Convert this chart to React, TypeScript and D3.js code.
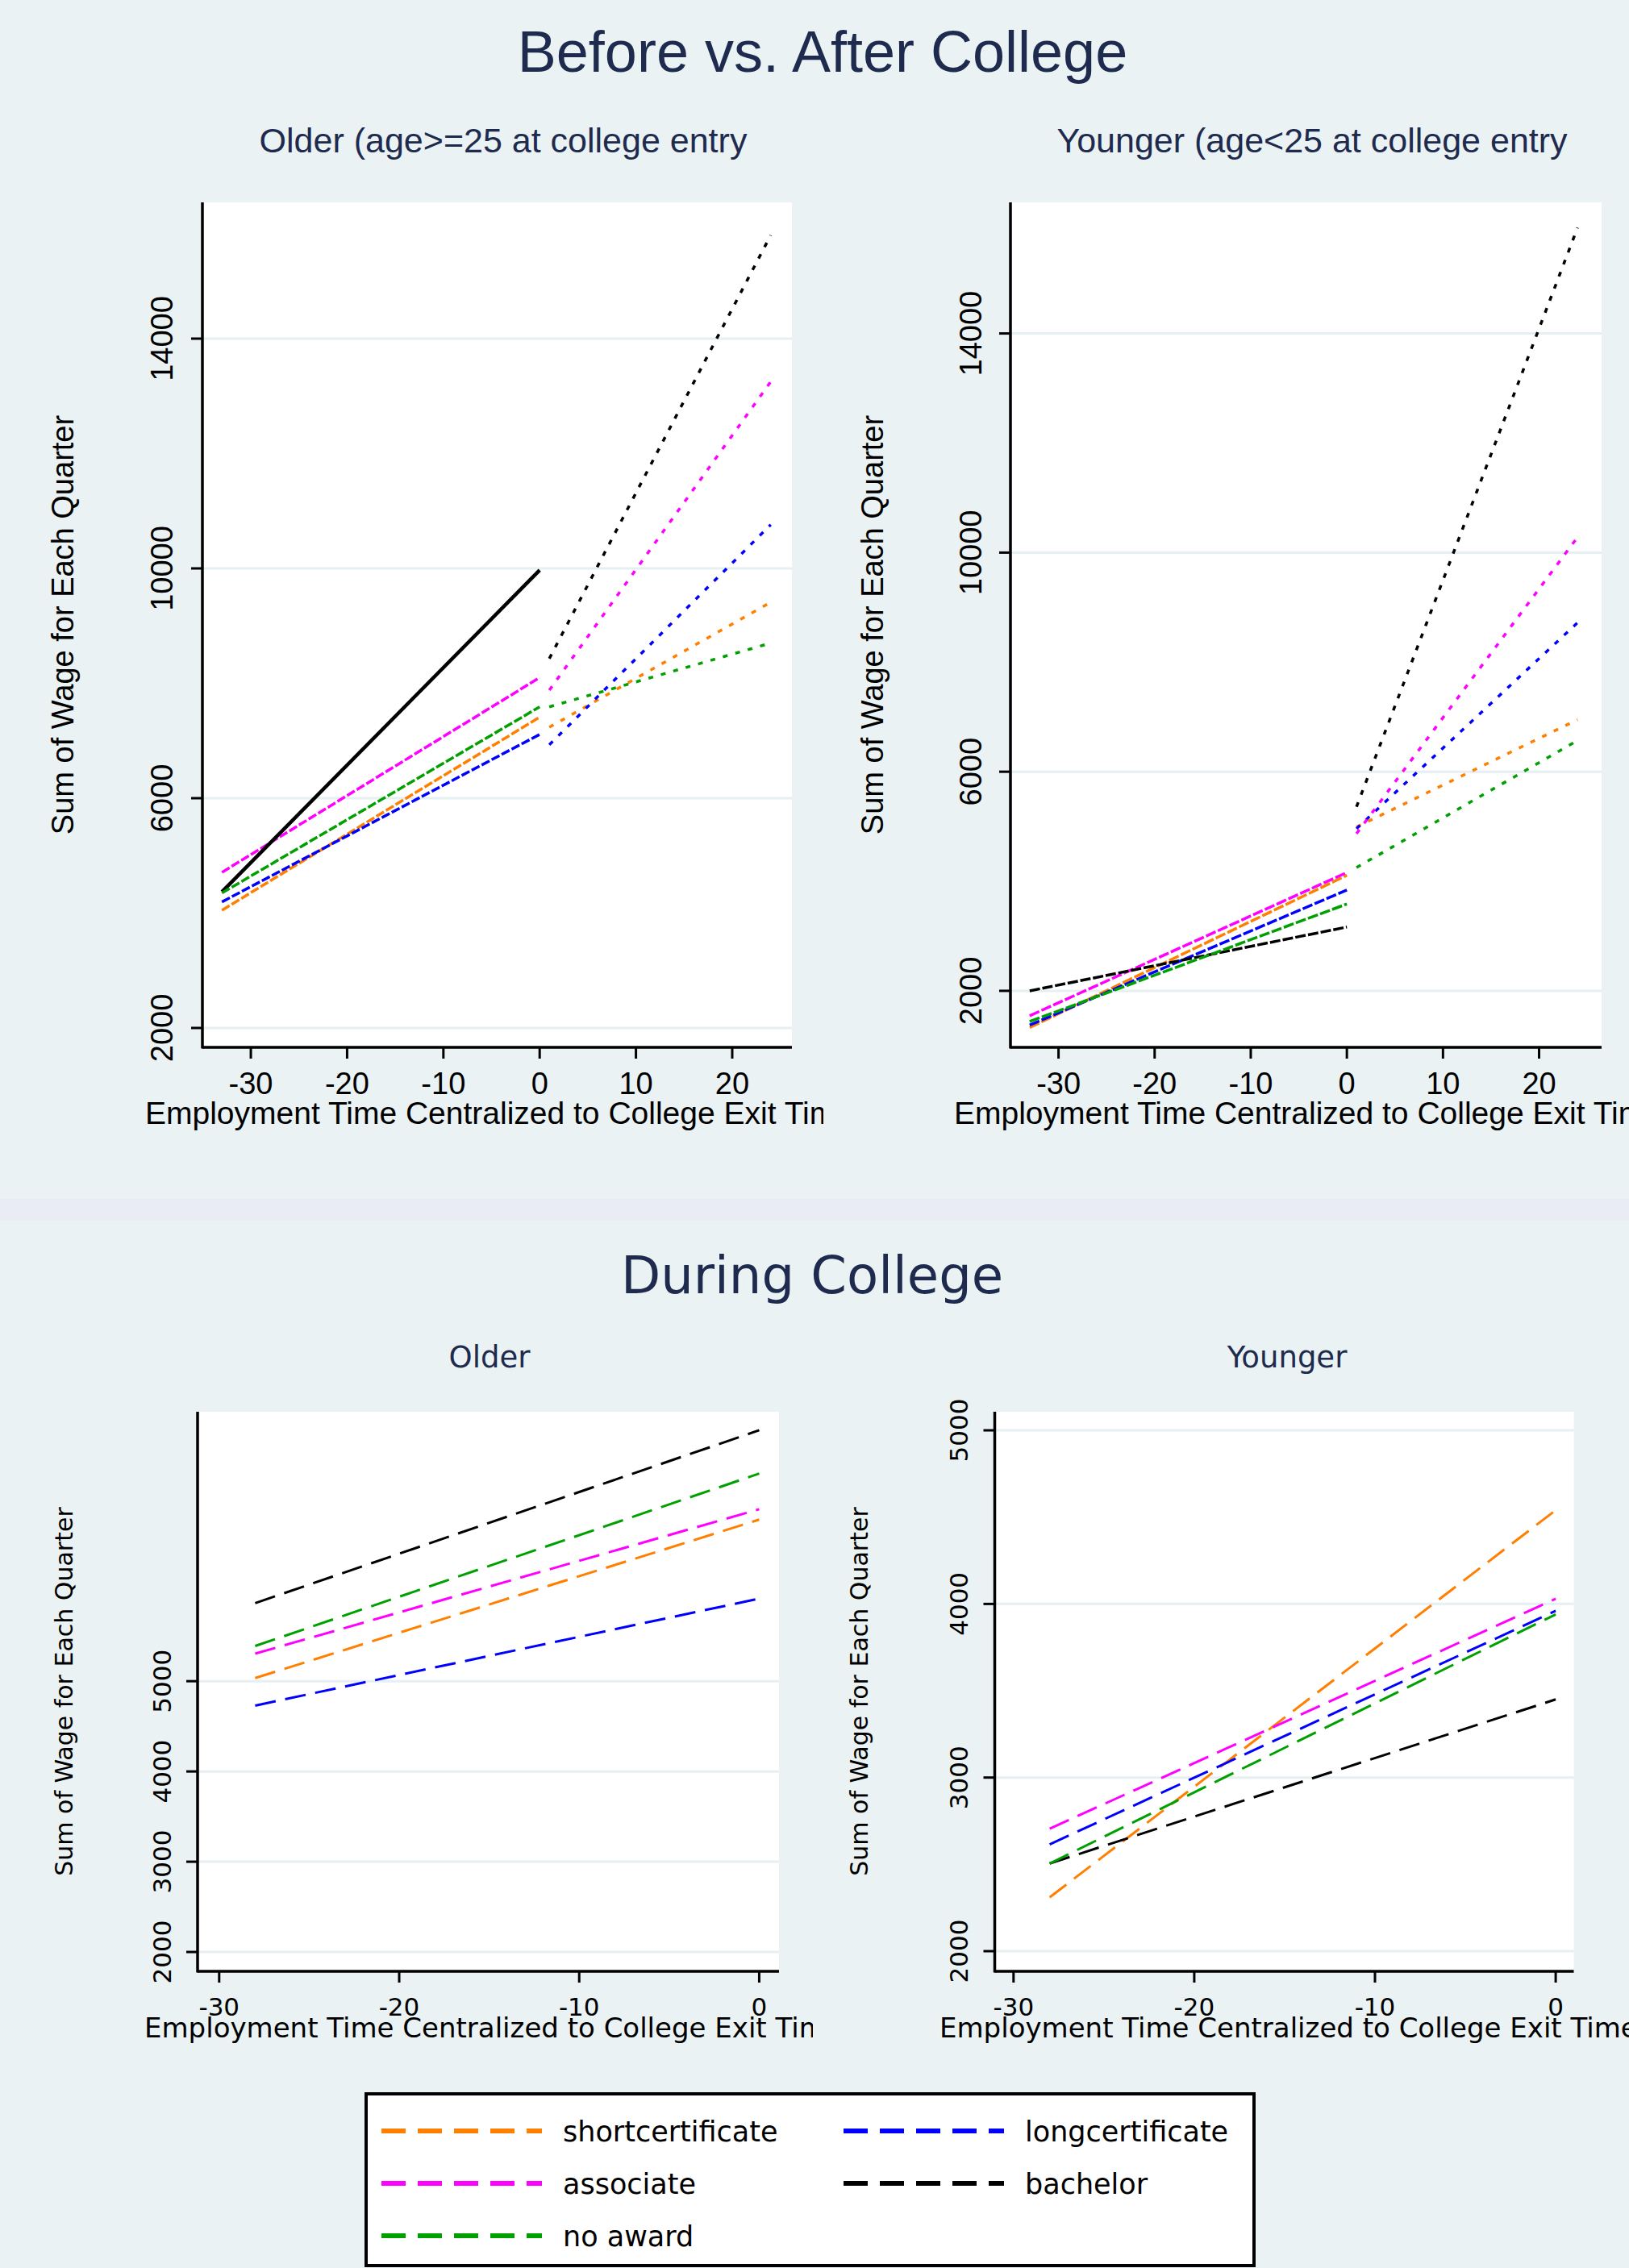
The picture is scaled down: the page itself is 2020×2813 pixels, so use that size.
import * as d3 from "d3";

const degrees = ["shortcertificate", "longcertificate", "associate", "bachelor", "no award"];
const degreeColors = ["#FF7F00", "#0000FF", "#FF00FF", "#000000", "#00A000"];

// Before vs. After College: quarters relative to college exit
const preQuarters = [-33, 0];
const postQuarters = [1, 24];

// fitted wage at the start and end of each segment, in degree order
const olderPre = [[4050, 7410], [4195, 7110], [4710, 8100], [4370, 9970], [4350, 7590]];
const olderPost = [[7235, 9410], [6930, 10760], [7880, 13250], [8430, 15800], [7590, 8700]];
const youngerPre = [[1330, 4110], [1375, 3840], [1545, 4160], [2000, 3165], [1440, 3585]];
const youngerPost = [[4990, 6950], [4960, 8720], [4870, 10280], [5360, 15930], [4250, 6570]];

// During College
const duringQuarters = [-28, 0];
const olderDuring = [[5035, 6790], [4730, 5915], [5305, 6905], [5865, 7780], [5390, 7300]];
const youngerDuring = [[2310, 4540], [2615, 3960], [2705, 4030], [2505, 3450], [2505, 3940]];

const topYTicks = [2000, 6000, 10000, 14000];
const topXTicks = [-30, -20, -10, 0, 10, 20];
const bottomYTicks = [2000, 3000, 4000, 5000];
const bottomXTicks = [-30, -20, -10, 0];

const xTitle = "Employment Time Centralized to College Exit Time";
const yTitle = "Sum of Wage for Each Quarter";

const BG = "#EAF2F3";
const NAVY = "#1E2B4E";
const ARIAL = "'Liberation Sans', Arial, sans-serif";
const DEJAVU = "'DejaVu Sans', sans-serif";

type Seg = { xs: number[]; vals: number[][]; dash: string; width: number; solid?: number };

type PanelProps = {
  id: string;
  clipRight: number;
  box: { left: number; top: number; right: number; bottom: number };
  xDomain: [number, number];
  yDomain: [number, number];
  xTicks: number[];
  yTicks: number[];
  segs: Seg[];
  title: string;
  titleX: number;
  titleY: number;
  titleSize: number;
  font: string;
  yTitleX: number;
  yTitleSize: number;
  yTickX: number;
  tickSize: number;
  xTickY: number;
  xTitleX: number;
  xTitleY: number;
  xTitleSize: number;
};

function Panel(p: PanelProps) {
  const { box } = p;
  const x = d3.scaleLinear().domain(p.xDomain).range([box.left, box.right]);
  const y = d3.scaleLinear().domain(p.yDomain).range([box.bottom, box.top]);
  const line = d3
    .line<[number, number]>()
    .x((d) => x(d[0]))
    .y((d) => y(d[1]));
  const midY = (box.top + box.bottom) / 2;

  return (
    <g clipPath={`url(#${p.id})`}>
      <clipPath id={p.id}>
        <rect x={0} y={0} width={p.clipRight} height={2813} />
      </clipPath>
      <text x={p.titleX} y={p.titleY} textAnchor="middle" fontFamily={p.font} fontSize={p.titleSize} fill={NAVY}>
        {p.title}
      </text>
      <rect x={box.left} y={box.top} width={box.right - box.left} height={box.bottom - box.top} fill="#FFFFFF" />
      {p.yTicks.map((t) => (
        <line key={`g${t}`} x1={box.left} x2={box.right} y1={y(t)} y2={y(t)} stroke="#E6EFF1" strokeWidth={3} />
      ))}
      {p.segs.map((s, si) =>
        s.vals.map((v, i) => (
          <path
            key={`s${si}-${i}`}
            d={line([[s.xs[0], v[0]], [s.xs[1], v[1]]]) || ""}
            fill="none"
            stroke={degreeColors[i]}
            strokeWidth={s.solid === i ? 4.5 : s.width}
            strokeDasharray={s.solid === i ? undefined : s.dash}
          />
        ))
      )}
      <line x1={box.left} x2={box.left} y1={box.top} y2={box.bottom + 1.5} stroke="#000" strokeWidth={3.5} />
      <line x1={box.left} x2={box.right} y1={box.bottom} y2={box.bottom} stroke="#000" strokeWidth={3.5} />
      {p.yTicks.map((t) => (
        <g key={`y${t}`}>
          <line x1={box.left - 14} x2={box.left} y1={y(t)} y2={y(t)} stroke="#000" strokeWidth={3} />
          <text
            transform={`translate(${p.yTickX},${y(t)}) rotate(-90)`}
            textAnchor="middle"
            fontFamily={p.font}
            fontSize={p.tickSize}
            fill="#000"
          >
            {t}
          </text>
        </g>
      ))}
      {p.xTicks.map((t) => (
        <g key={`x${t}`}>
          <line x1={x(t)} x2={x(t)} y1={box.bottom} y2={box.bottom + 14} stroke="#000" strokeWidth={3} />
          <text x={x(t)} y={p.xTickY} textAnchor="middle" fontFamily={p.font} fontSize={p.tickSize} fill="#000">
            {t}
          </text>
        </g>
      ))}
      <text
        transform={`translate(${p.yTitleX},${midY}) rotate(-90)`}
        textAnchor="middle"
        fontFamily={p.font}
        fontSize={p.yTitleSize}
        fill="#000"
      >
        {yTitle}
      </text>
      <text x={p.xTitleX} y={p.xTitleY} fontFamily={p.font} fontSize={p.xTitleSize} fill="#000">
        {xTitle}
      </text>
    </g>
  );
}

function Legend() {
  const left = 454;
  const top = 2597;
  const rows = [2643, 2708, 2773];
  const cols = [473, 1046];
  const lineLen = 199;
  return (
    <g>
      <rect x={left} y={top} width={1101} height={213} fill="#FFFFFF" stroke="#000" strokeWidth={4} />
      {degrees.map((name, i) => {
        const cx = cols[i % 2];
        const cy = rows[Math.floor(i / 2)];
        return (
          <g key={name}>
            <line x1={cx} x2={cx + lineLen} y1={cy} y2={cy} stroke={degreeColors[i]} strokeWidth={6} strokeDasharray="30 15" />
            <text x={cx + 225} y={cy + 13} fontFamily={DEJAVU} fontSize={35} fill="#000">
              {name}
            </text>
          </g>
        );
      })}
    </g>
  );
}

export default function App() {
  const topBase = {
    xTicks: topXTicks,
    yTicks: topYTicks,
    titleY: 189,
    titleSize: 43,
    font: ARIAL,
    yTitleSize: 38,
    tickSize: 38,
    xTickY: 1357,
    xTitleY: 1394,
    xTitleSize: 39,
  };
  const bottomBase = {
    xTicks: bottomXTicks,
    yTicks: bottomYTicks,
    titleY: 1696,
    titleSize: 37,
    font: DEJAVU,
    yTitleSize: 30,
    tickSize: 31,
    xTickY: 2500,
    xTitleY: 2527,
    xTitleSize: 34,
  };
  const preDash = "11 3";
  const postDash = "6 10";
  const duringDash = "26 12";

  return (
    <svg width={2020} height={2813} style={{ position: "absolute", left: 0, top: 0, display: "block" }}>
      <rect x={0} y={0} width={2020} height={2813} fill={BG} />
      <rect x={0} y={1487} width={2020} height={27} fill="#E9ECF4" />

      <text x={1020} y={89} textAnchor="middle" fontFamily={ARIAL} fontSize={72} fill={NAVY}>
        Before vs. After College
      </text>
      <text x={1007} y={1604} textAnchor="middle" fontFamily={DEJAVU} fontSize={64} fill={NAVY}>
        During College
      </text>

      <Panel
        {...topBase}
        id="clipTL"
        clipRight={1021}
        box={{ left: 251, top: 251, right: 982, bottom: 1299 }}
        xDomain={[-35.03, 26.2]}
        yDomain={[1663, 16372]}
        segs={[
          { xs: preQuarters, vals: olderPre, dash: preDash, width: 3.5, solid: 3 },
          { xs: postQuarters, vals: olderPost, dash: postDash, width: 3.5 },
        ]}
        title="Older (age>=25 at college entry"
        titleX={624}
        yTitleX={91}
        yTickX={214}
        xTitleX={180}
      />
      <Panel
        {...topBase}
        id="clipTR"
        clipRight={2020}
        box={{ left: 1253, top: 251, right: 1986, bottom: 1299 }}
        xDomain={[-35.0, 26.5]}
        yDomain={[969, 16393]}
        segs={[
          { xs: preQuarters, vals: youngerPre, dash: "13 3", width: 3.5 },
          { xs: postQuarters, vals: youngerPost, dash: postDash, width: 3.5 },
        ]}
        title="Younger (age<25 at college entry"
        titleX={1627}
        yTitleX={1095}
        yTickX={1217}
        xTitleX={1183}
      />
      <Panel
        {...bottomBase}
        id="clipBL"
        clipRight={1008}
        box={{ left: 245, top: 1751, right: 966, bottom: 2445 }}
        xDomain={[-31.2, 1.1]}
        yDomain={[1786, 7985]}
        segs={[{ xs: duringQuarters, vals: olderDuring, dash: duringDash, width: 3 }]}
        title="Older"
        titleX={607}
        yTitleX={90}
        yTickX={212}
        xTitleX={179}
      />
      <Panel
        {...bottomBase}
        id="clipBR"
        clipRight={2020}
        box={{ left: 1233.5, top: 1751, right: 1951.5, bottom: 2445 }}
        xDomain={[-31.04, 1.0]}
        yDomain={[1884, 5107]}
        segs={[{ xs: duringQuarters, vals: youngerDuring, dash: duringDash, width: 3 }]}
        title="Younger"
        titleX={1596}
        yTitleX={1076}
        yTickX={1200}
        xTitleX={1165}
      />

      <Legend />
    </svg>
  );
}
